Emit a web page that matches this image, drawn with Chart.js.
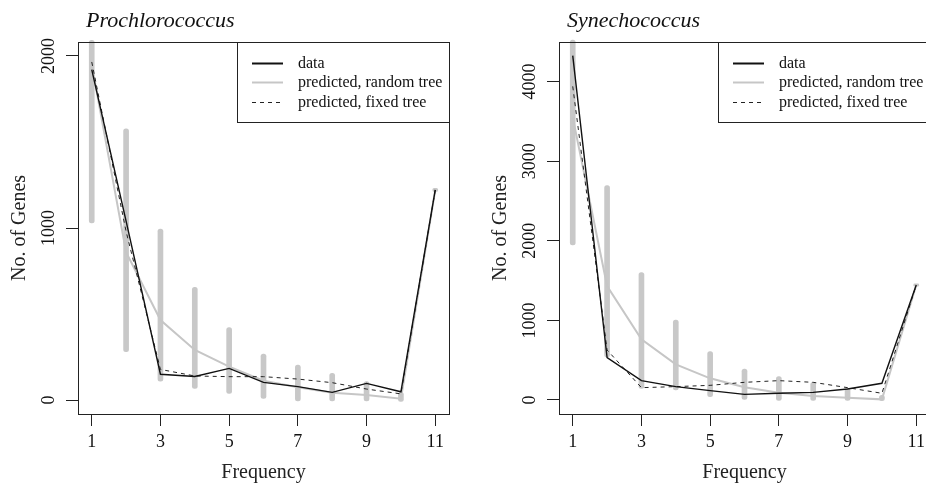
<!DOCTYPE html>
<html>
<head>
<meta charset="utf-8">
<script src="https://cdn.jsdelivr.net/npm/chart.js@4.4.0/dist/chart.umd.min.js"></script>
<style>
  html, body { margin: 0; padding: 0; overflow: hidden; background: #fff; }
  body { width: 926px; height: 485px; position: relative; }
  canvas { position: absolute; top: 0; }
</style>
</head>
<body>
<canvas id="pro" width="463" height="485" style="left:0"></canvas>
<canvas id="syn" width="463" height="485" style="left:481px"></canvas>
<script>
const FONT = "'Liberation Serif', 'Times New Roman', serif";

const FREQ = [1, 2, 3, 4, 5, 6, 7, 8, 9, 10, 11];
const X_TICKS = [1, 3, 5, 7, 9, 11];
const LEGEND_LABELS = ['data', 'predicted, random tree', 'predicted, fixed tree'];

// Prochlorococcus
const PRO_DATA   = [1920, 1040, 150, 137, 184, 103, 78, 45, 97, 48, 1221];
const PRO_RANDOM = [1950, 860, 465, 291, 194, 112, 74, 43, 29, 8, 1221];
const PRO_FIXED  = [1965, 980, 178, 140, 136, 136, 122, 101, 64, 36, 1221];
const PRO_LOW    = [1030, 281, 110, 68, 39, 10, -5, -5, -5, -8, 1212];
const PRO_HIGH   = [2090, 1576, 994, 655, 421, 267, 203, 155, 107, 45, 1231];
const PRO_Y_TICKS = [0, 1000, 2000];

// Synechococcus
const SYN_DATA   = [4325, 532, 243, 168, 117, 71, 84, 96, 138, 210, 1445];
const SYN_RANDOM = [3550, 1432, 762, 448, 272, 159, 92, 50, 29, 8, 1445];
const SYN_FIXED  = [3940, 628, 155, 168, 184, 222, 243, 222, 155, 84, 1445];
const SYN_LOW    = [1947, 540, 146, 126, 42, 0, -5, -5, -5, -10, 1430];
const SYN_HIGH   = [4520, 2693, 1600, 1005, 607, 389, 293, 222, 146, 60, 1460];
const SYN_Y_TICKS = [0, 1000, 2000, 3000, 4000];

const pts = vals => FREQ.map((f, i) => ({ x: f, y: vals[i] }));

// box round the plot, italic panel title, legend in the top right corner
const panelDecor = {
  id: 'panelDecor',
  afterDraw(chart, args, opts) {
    const { ctx, chartArea: a } = chart;
    ctx.save();
    ctx.strokeStyle = '#222';
    ctx.lineWidth = 1;
    ctx.strokeRect(a.left + 0.5, a.top + 0.5, a.right - a.left, a.bottom - a.top);

    ctx.fillStyle = '#111';
    ctx.font = 'italic 22px ' + FONT;
    ctx.textBaseline = 'alphabetic';
    ctx.textAlign = 'left';
    ctx.fillText(opts.title, a.left + 8, 27);

    const w = 212, h = 80;
    const lx = a.right - w, ly = a.top;
    ctx.fillStyle = '#fff';
    ctx.fillRect(lx, ly, w, h);
    ctx.strokeRect(lx + 0.5, ly + 0.5, w, h);
    const rows = [21, 40, 60];
    ctx.font = '16px ' + FONT;
    ctx.textBaseline = 'middle';
    chart.data.datasets.filter(d => d.type === 'line').forEach((d, i) => {
      const y = ly + rows[i] + 0.5;
      ctx.beginPath();
      ctx.strokeStyle = d.borderColor;
      ctx.lineWidth = i === 0 ? 2 : d.borderWidth;
      ctx.setLineDash(d.borderDash || []);
      ctx.moveTo(lx + 15, y);
      ctx.lineTo(lx + 46, y);
      ctx.stroke();
      ctx.setLineDash([]);
      ctx.fillStyle = '#111';
      ctx.fillText(d.label, lx + 61, y);
    });
    ctx.restore();
  }
};

function makeChart(id, title, dataVals, randomVals, fixedVals, low, high, yMin, yMax, yTicks) {
  const tickGrid = { display: true, drawOnChartArea: false, drawTicks: true, tickLength: 12, color: '#222', offset: false };
  return new Chart(document.getElementById(id), {
    type: 'line',
    data: {
      datasets: [
        { type: 'line', label: LEGEND_LABELS[0], data: pts(dataVals), borderColor: '#111', borderWidth: 1.4,
          pointRadius: 0, tension: 0, order: 1 },
        { type: 'line', label: LEGEND_LABELS[1], data: pts(randomVals), borderColor: '#c6c6c6', borderWidth: 2,
          pointRadius: 0, tension: 0, order: 3 },
        { type: 'line', label: LEGEND_LABELS[2], data: pts(fixedVals), borderColor: '#222', borderWidth: 1,
          borderDash: [4, 4], pointRadius: 0, tension: 0, order: 2 },
        { type: 'bar', label: 'range', data: FREQ.map((f, i) => ({ x: f, y: [low[i], high[i]] })),
          backgroundColor: '#c8c8c8', barThickness: 5, borderRadius: 3, borderSkipped: false,
          clip: false, order: 4 }
      ]
    },
    options: {
      responsive: false,
      animation: false,
      events: [],
      layout: { padding: { top: 42, right: 14, left: 0, bottom: 0 } },
      plugins: { legend: { display: false }, tooltip: { enabled: false }, panelDecor: { title } },
      scales: {
        x: {
          type: 'linear', min: 0.6, max: 11.4, offset: false,
          afterBuildTicks: s => { s.ticks = X_TICKS.map(v => ({ value: v })); },
          afterFit: s => { s.height = 71; },
          grid: tickGrid, border: { display: false },
          ticks: { color: '#111', font: { family: FONT, size: 18 }, padding: 5, autoSkip: false, maxRotation: 0,
                   callback: v => String(v) },
          title: { display: true, text: 'Frequency', color: '#222', font: { family: FONT, size: 20 },
                   padding: { top: 0, bottom: 0 } }
        },
        y: {
          type: 'linear', min: yMin, max: yMax,
          afterBuildTicks: s => { s.ticks = yTicks.map(v => ({ value: v })); },
          afterFit: s => { s.width = 78; },
          grid: tickGrid, border: { display: false },
          ticks: { color: '#111', font: { family: FONT, size: 18 }, padding: -1, minRotation: 90, maxRotation: 90,
                   crossAlign: 'center', autoSkip: false, callback: v => String(v) },
          title: { display: true, text: 'No. of Genes', color: '#222', font: { family: FONT, size: 20 },
                   padding: { top: 8, bottom: 0 } }
        }
      }
    },
    plugins: [panelDecor]
  });
}

makeChart('pro', 'Prochlorococcus', PRO_DATA, PRO_RANDOM, PRO_FIXED, PRO_LOW, PRO_HIGH, -81, 2081, PRO_Y_TICKS);
makeChart('syn', 'Synechococcus', SYN_DATA, SYN_RANDOM, SYN_FIXED, SYN_LOW, SYN_HIGH, -176, 4497, SYN_Y_TICKS);
</script>
</body>
</html>
